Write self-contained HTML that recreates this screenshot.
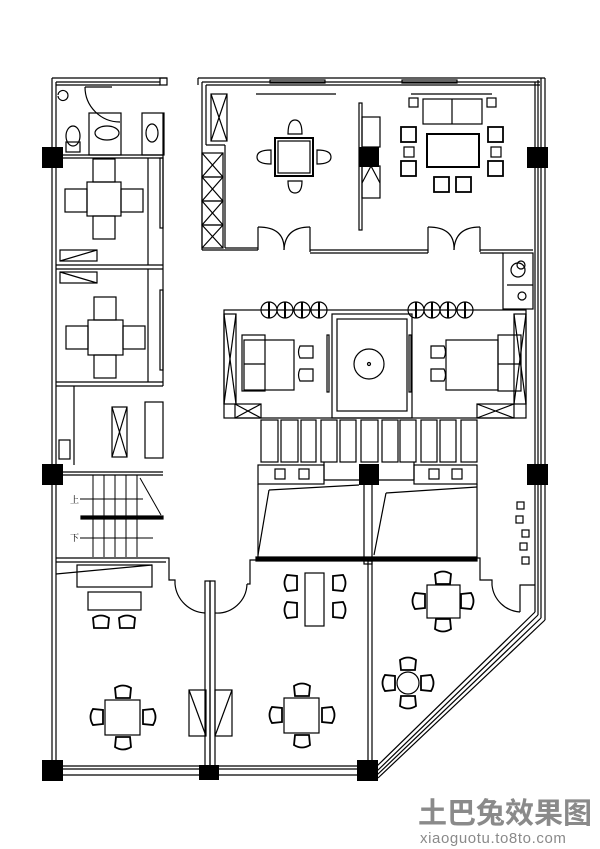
<!DOCTYPE html>
<html><head><meta charset="utf-8"><style>
html,body{margin:0;padding:0;background:#fff;width:600px;height:849px;overflow:hidden}
svg{display:block}
</style></head><body>
<svg width="600" height="849" viewBox="0 0 600 849" xmlns="http://www.w3.org/2000/svg">
<defs><path id="ch" d="M-7 6 L-8 -4 Q0 -9 8 -4 L7 6 Z" fill="none" stroke="#000" stroke-width="1.8"/></defs>
<g fill="none" stroke="#000" stroke-width="1.2">
<line x1="52" y1="78" x2="52" y2="768"/><line x1="56" y1="82" x2="56" y2="768"/>
<line x1="52" y1="78" x2="167" y2="78"/><line x1="56" y1="82" x2="160" y2="82"/><line x1="56" y1="85" x2="160" y2="85"/>
<rect x="160" y="78" width="7" height="7"/>
<path d="M85 87 A35 35 0 0 0 120 122"/><line x1="85" y1="87" x2="112" y2="87"/>
<rect x="89" y="113" width="32" height="42"/><rect x="142" y="113" width="22" height="42"/>
<ellipse cx="73" cy="136" rx="7" ry="10"/><rect x="66" y="142" width="14" height="10"/>
<ellipse cx="107" cy="133" rx="12" ry="7"/><ellipse cx="152" cy="133" rx="6" ry="9"/>
<path d="M58 96 a5 5 0 1 0 0 -1"/>
<line x1="56" y1="155" x2="163" y2="155"/><line x1="56" y1="158" x2="163" y2="158"/>
<line x1="56" y1="265" x2="163" y2="265"/><line x1="56" y1="269" x2="163" y2="269"/>
<line x1="56" y1="382" x2="163" y2="382"/><line x1="56" y1="386" x2="163" y2="386"/>
<line x1="148" y1="158" x2="148" y2="265"/><line x1="163" y1="113" x2="163" y2="386"/>
<line x1="148" y1="269" x2="148" y2="382"/>
<rect x="160" y="158" width="3" height="70"/><rect x="160" y="290" width="3" height="80"/>
<rect x="87" y="182" width="34" height="34"/><rect x="93" y="159" width="22" height="23"/><rect x="93" y="216" width="22" height="23"/>
<rect x="65" y="189" width="22" height="23"/><rect x="121" y="189" width="22" height="23"/>
<rect x="88" y="320" width="35" height="35"/><rect x="94" y="297" width="22" height="23"/><rect x="94" y="355" width="22" height="23"/>
<rect x="66" y="326" width="22" height="23"/><rect x="123" y="326" width="22" height="23"/>
<rect x="60" y="250" width="37" height="11"/><line x1="60" y1="261" x2="97" y2="250"/>
<rect x="60" y="272" width="37" height="11"/><line x1="60" y1="272" x2="97" y2="283"/>
<line x1="74" y1="386" x2="74" y2="465"/>
<rect x="112" y="407" width="15" height="50"/><line x1="112" y1="407" x2="127" y2="457"/><line x1="127" y1="407" x2="112" y2="457"/>
<rect x="145" y="402" width="18" height="56"/>
<rect x="59" y="440" width="11" height="19"/>
<line x1="62" y1="472" x2="163" y2="472"/><line x1="62" y1="475" x2="163" y2="475"/>
<g stroke-width="1">
<line x1="93" y1="475" x2="93" y2="557"/><line x1="104" y1="475" x2="104" y2="557"/><line x1="115" y1="475" x2="115" y2="557"/><line x1="126" y1="475" x2="126" y2="557"/><line x1="137" y1="475" x2="137" y2="557"/>
<line x1="80" y1="499" x2="143" y2="499"/><line x1="80" y1="538" x2="153" y2="538"/>
<line x1="140" y1="478" x2="161" y2="515"/>
</g>
<rect x="81" y="516" width="82" height="3" fill="#000"/>
<line x1="56" y1="558" x2="166" y2="558"/><line x1="56" y1="562" x2="166" y2="562"/>
<path d="M166 558 L169 558 L169 580 L175 580 L175 584"/>
<rect x="77" y="565" width="75" height="22"/><line x1="56" y1="574" x2="152" y2="565"/>
<rect x="88" y="592" width="53" height="18"/>
<path d="M175 584 A32 32 0 0 0 205 613"/>
<rect x="205" y="581" width="5" height="190"/><rect x="210" y="581" width="5" height="190"/>
<path d="M215 613 A30 30 0 0 0 247 584"/>
<path d="M247 584 L250 584 L250 560 L256 560"/>
<rect x="189" y="690" width="17" height="46"/><line x1="189" y1="690" x2="206" y2="736"/>
<rect x="215" y="690" width="17" height="46"/><line x1="215" y1="736" x2="232" y2="690"/>
<line x1="63" y1="766" x2="357" y2="766"/><line x1="63" y1="769" x2="357" y2="769"/><line x1="63" y1="775" x2="357" y2="775"/>
<line x1="198" y1="78" x2="545" y2="78"/><line x1="198" y1="78" x2="198" y2="85"/><line x1="202" y1="82" x2="540" y2="82"/><line x1="206" y1="85" x2="540" y2="85"/>
<line x1="202" y1="82" x2="202" y2="250"/><line x1="206" y1="85" x2="206" y2="145"/><line x1="206" y1="145" x2="225" y2="145"/><line x1="225" y1="145" x2="225" y2="248"/>
<line x1="202" y1="250" x2="258" y2="250"/><line x1="225" y1="248" x2="258" y2="248"/>
<rect x="270" y="80" width="55" height="3"/><rect x="402" y="80" width="55" height="3"/>
<line x1="256" y1="94" x2="336" y2="94"/><line x1="411" y1="94" x2="492" y2="94"/>
<rect x="211" y="94" width="16" height="47"/><line x1="211" y1="94" x2="227" y2="141"/><line x1="227" y1="94" x2="211" y2="141"/>
<rect x="202" y="153" width="21" height="24"/><line x1="202" y1="153" x2="223" y2="177"/><line x1="223" y1="153" x2="202" y2="177"/>
<rect x="202" y="177" width="21" height="24"/><line x1="202" y1="177" x2="223" y2="201"/><line x1="223" y1="177" x2="202" y2="201"/>
<rect x="202" y="201" width="21" height="24"/><line x1="202" y1="201" x2="223" y2="225"/><line x1="223" y1="201" x2="202" y2="225"/>
<rect x="202" y="225" width="21" height="23"/><line x1="202" y1="225" x2="223" y2="248"/><line x1="223" y1="225" x2="202" y2="248"/>
<rect x="275" y="138" width="38" height="38" stroke-width="2"/><rect x="278" y="141" width="32" height="32"/>
<path d="M288 134 q0 -14 7 -14 q7 0 7 14 z"/><path d="M288 181 q0 12 7 12 q7 0 7 -12 z"/>
<path d="M271 150 q-14 0 -14 7 q0 7 14 7 z"/><path d="M317 150 q14 0 14 7 q0 7 -14 7 z"/>
<rect x="359" y="103" width="3" height="127"/><rect x="362" y="117" width="18" height="30"/><rect x="362" y="166" width="18" height="32"/>
<path d="M362 183 L371 166 L380 183"/>
<rect x="423" y="99" width="59" height="25"/><line x1="452" y1="99" x2="452" y2="124"/>
<rect x="409" y="98" width="9" height="9"/><rect x="487" y="98" width="9" height="9"/>
<rect x="427" y="134" width="52" height="33" stroke-width="2"/>
<rect x="401" y="127" width="15" height="15" stroke-width="1.8"/><rect x="404" y="147" width="10" height="10"/><rect x="401" y="161" width="15" height="15" stroke-width="1.8"/>
<rect x="488" y="127" width="15" height="15" stroke-width="1.8"/><rect x="491" y="147" width="10" height="10"/><rect x="488" y="161" width="15" height="15" stroke-width="1.8"/>
<rect x="434" y="177" width="15" height="15" stroke-width="1.8"/><rect x="456" y="177" width="15" height="15" stroke-width="1.8"/>
<line x1="258" y1="227" x2="258" y2="250"/><line x1="310" y1="227" x2="310" y2="252"/>
<path d="M258 227 Q285 227 284 250"/><path d="M310 227 Q285 227 284 250"/>
<line x1="310" y1="250" x2="428" y2="250"/><line x1="310" y1="253" x2="428" y2="253"/>
<line x1="428" y1="227" x2="428" y2="253"/><line x1="480" y1="227" x2="480" y2="252"/>
<path d="M428 227 Q455 227 454 250"/><path d="M480 227 Q455 227 454 250"/>
<line x1="480" y1="250" x2="533" y2="250"/><line x1="480" y1="253" x2="503" y2="253"/>
<rect x="503" y="253" width="30" height="56"/><circle cx="518" cy="270" r="7"/><circle cx="521" cy="265" r="4"/><circle cx="522" cy="296" r="4"/><line x1="507" y1="285" x2="533" y2="285"/>
<line x1="535" y1="82" x2="535" y2="612"/><line x1="538" y1="80" x2="538" y2="615"/><line x1="541" y1="78" x2="541" y2="618"/><line x1="545" y1="78" x2="545" y2="620"/>
<line x1="535" y1="612" x2="375" y2="768"/><line x1="538" y1="615" x2="376" y2="772"/><line x1="541" y1="618" x2="377" y2="775"/><line x1="545" y1="620" x2="378" y2="778"/>
<rect x="224" y="310" width="302" height="108"/>
<rect x="224" y="314" width="12" height="90"/><line x1="224" y1="314" x2="236" y2="404"/><line x1="236" y1="314" x2="224" y2="404"/>
<rect x="514" y="314" width="12" height="90"/><line x1="514" y1="314" x2="526" y2="404"/><line x1="526" y1="314" x2="514" y2="404"/>
<rect x="235" y="404" width="26" height="14"/><line x1="235" y1="404" x2="261" y2="418"/><line x1="261" y1="404" x2="235" y2="418"/>
<rect x="477" y="404" width="37" height="14"/><line x1="477" y1="404" x2="514" y2="418"/><line x1="514" y1="404" x2="477" y2="418"/>
<rect x="332" y="314" width="80" height="104"/><rect x="337" y="319" width="70" height="92"/>
<circle cx="369" cy="364" r="15"/><circle cx="369" cy="364" r="1.5"/>
<rect x="242" y="335" width="23" height="56"/><rect x="244" y="340" width="50" height="50"/><line x1="244" y1="364" x2="265" y2="364"/>
<rect x="498" y="335" width="23" height="56"/><rect x="446" y="340" width="52" height="50"/><line x1="498" y1="364" x2="521" y2="364"/>
<rect x="327" y="335" width="2" height="57"/><rect x="409" y="335" width="2" height="57"/>
<path d="M300 346 h13 v12 h-13 q-3 -6 0 -12z"/><path d="M300 369 h13 v12 h-13 q-3 -6 0 -12z"/>
<path d="M444 346 h-13 v12 h13 q3 -6 0 -12z"/><path d="M444 369 h-13 v12 h13 q3 -6 0 -12z"/>
<circle cx="269" cy="310" r="8"/><circle cx="285" cy="310" r="8"/><circle cx="302" cy="310" r="8"/><circle cx="319" cy="310" r="8"/>
<circle cx="416" cy="310" r="8"/><circle cx="432" cy="310" r="8"/><circle cx="448" cy="310" r="8"/><circle cx="465" cy="310" r="8"/>
<rect x="261" y="420" width="17" height="42"/><rect x="281" y="420" width="17" height="42"/><rect x="301" y="420" width="15" height="42"/><rect x="321" y="420" width="16" height="42"/><rect x="340" y="420" width="16" height="42"/><rect x="361" y="420" width="17" height="42"/><rect x="382" y="420" width="16" height="42"/><rect x="400" y="420" width="16" height="42"/><rect x="421" y="420" width="16" height="42"/><rect x="440" y="420" width="16" height="42"/><rect x="461" y="420" width="16" height="42"/>
<rect x="258" y="465" width="66" height="19"/><rect x="414" y="465" width="63" height="19"/>
<rect x="275" y="469" width="10" height="10"/><rect x="299" y="469" width="10" height="10"/><rect x="429" y="469" width="10" height="10"/><rect x="452" y="469" width="10" height="10"/>
<line x1="324" y1="462" x2="324" y2="480"/><line x1="324" y1="480" x2="414" y2="480"/><line x1="414" y1="462" x2="414" y2="480"/>
<line x1="258" y1="484" x2="258" y2="558"/><line x1="477" y1="484" x2="477" y2="558"/>
<line x1="269" y1="490" x2="359" y2="485"/><line x1="269" y1="490" x2="258" y2="555"/>
<line x1="386" y1="493" x2="477" y2="487"/><line x1="386" y1="493" x2="374" y2="555"/>
<rect x="364" y="484" width="8" height="80"/>
<rect x="256" y="557" width="221" height="4" fill="#000"/>
<rect x="368" y="561" width="4" height="206"/>
<path d="M477 558 L480 558 L480 580 L492 580 L492 585"/>
<path d="M492 585 A30 30 0 0 0 520 612"/><path d="M520 612 L520 585 L535 585"/>
<rect x="517" y="502" width="7" height="7"/><rect x="516" y="516" width="7" height="7"/><rect x="522" y="530" width="7" height="7"/><rect x="520" y="543" width="7" height="7"/><rect x="522" y="557" width="7" height="7"/>
<rect x="305" y="573" width="19" height="53"/>
<rect x="427" y="585" width="33" height="33"/>
<circle cx="408" cy="683" r="11"/>
<rect x="105" y="700" width="35" height="35"/>
<rect x="284" y="698" width="35" height="35"/>
</g>
<g fill="#000" stroke="none"><rect x="268" y="302" width="2" height="16"/><rect x="284" y="302" width="2" height="16"/><rect x="301" y="302" width="2" height="16"/><rect x="318" y="302" width="2" height="16"/><rect x="415" y="302" width="2" height="16"/><rect x="431" y="302" width="2" height="16"/><rect x="447" y="302" width="2" height="16"/><rect x="464" y="302" width="2" height="16"/></g>
<use href="#ch" transform="translate(101,622)"/><use href="#ch" transform="translate(127,622)"/>
<use href="#ch" transform="translate(123,692)"/><use href="#ch" transform="translate(123,743) rotate(180)"/><use href="#ch" transform="translate(97,717) rotate(-90)"/><use href="#ch" transform="translate(149,717) rotate(90)"/>
<use href="#ch" transform="translate(302,690)"/><use href="#ch" transform="translate(302,741) rotate(180)"/><use href="#ch" transform="translate(276,715) rotate(-90)"/><use href="#ch" transform="translate(328,715) rotate(90)"/>
<use href="#ch" transform="translate(291,583) rotate(-90)"/><use href="#ch" transform="translate(291,610) rotate(-90)"/><use href="#ch" transform="translate(339,583) rotate(90)"/><use href="#ch" transform="translate(339,610) rotate(90)"/>
<use href="#ch" transform="translate(443,578)"/><use href="#ch" transform="translate(443,625) rotate(180)"/><use href="#ch" transform="translate(419,601) rotate(-90)"/><use href="#ch" transform="translate(467,601) rotate(90)"/>
<use href="#ch" transform="translate(408,664)"/><use href="#ch" transform="translate(408,702) rotate(180)"/><use href="#ch" transform="translate(389,683) rotate(-90)"/><use href="#ch" transform="translate(427,683) rotate(90)"/>
<g fill="#000">
<rect x="42" y="147" width="21" height="21"/><rect x="359" y="147" width="20" height="20"/><rect x="527" y="147" width="21" height="21"/>
<rect x="42" y="464" width="21" height="21"/><rect x="359" y="464" width="20" height="21"/><rect x="527" y="464" width="21" height="21"/>
<rect x="42" y="760" width="21" height="21"/><rect x="199" y="765" width="20" height="15"/><rect x="357" y="760" width="21" height="21"/>
</g>
<text x="70" y="503" font-family="Liberation Serif, 'Noto Serif CJK SC', serif" font-size="9">上</text>
<text x="70" y="541" font-family="Liberation Serif, 'Noto Serif CJK SC', serif" font-size="9">下</text>
<text x="418" y="823" font-family="'Liberation Sans','Noto Sans CJK SC',sans-serif" font-size="29" font-weight="bold" fill="#8a8a8a">土巴兔效果图</text>
<text x="420" y="843" font-family="'Liberation Sans',sans-serif" font-size="15" fill="#8a8a8a" letter-spacing="0.6">xiaoguotu.to8to.com</text>
</svg>
</body></html>
